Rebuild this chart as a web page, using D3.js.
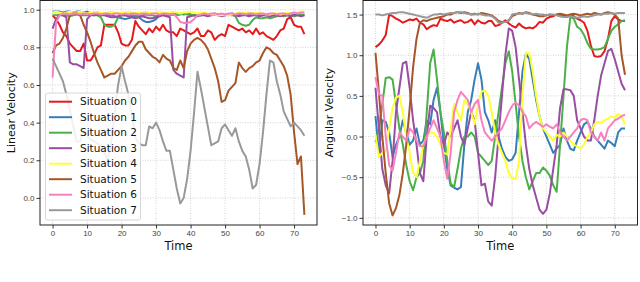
<!DOCTYPE html>
<html>
<head>
  <script src="https://cdn.jsdelivr.net/npm/d3@7"></script>
  <style>body { margin: 0; background: #fff } svg { display: block }</style>
</head>
<body>
  <div id="chart"></div>

  <script>
    const situations = ['Situation 0', 'Situation 1', 'Situation 2', 'Situation 3',
      'Situation 4', 'Situation 5', 'Situation 6', 'Situation 7'];
    const colors = ['#e41a1c', '#377eb8', '#4daf4a', '#984ea3', '#ffff33', '#a65628', '#f781bf', '#999999'];
    const xTicks = [0, 10, 20, 30, 40, 50, 60, 70];
    const linTicks = [0.0, 0.2, 0.4, 0.6, 0.8, 1.0];
    const angTicks = [-1.0, -0.5, 0.0, 0.5, 1.0, 1.5];

    // linear velocity, t = 0..73
    const lin0 = [0.97, 0.95, 0.92, 0.88, 0.86, 0.82, 0.80, 0.78, 0.78, 0.82, 0.73, 0.73, 0.76, 0.80, 0.81, 0.92,
      0.92, 0.92, 0.92, 0.88, 0.82, 0.81, 0.81, 0.84, 0.94, 0.91, 0.89, 0.87, 0.90, 0.88, 0.91, 0.89, 0.92, 0.89,
      0.88, 0.88, 0.86, 0.90, 0.89, 0.88, 0.87, 0.88, 0.90, 0.86, 0.86, 0.89, 0.88, 0.84, 0.86, 0.87, 0.86, 0.92,
      0.91, 0.90, 0.89, 0.90, 0.88, 0.89, 0.87, 0.90, 0.87, 0.88, 0.86, 0.85, 0.84, 0.86, 0.89, 0.90, 0.95, 0.96,
      0.92, 0.91, 0.91, 0.87];
    const lin1 = [0.99, 0.99, 0.99, 0.985, 0.99, 0.99, 0.985, 0.99, 0.99, 0.985, 0.99, 0.98, 0.98, 0.985, 0.98,
      0.98, 0.975, 0.97, 0.965, 0.96, 0.955, 0.95, 0.955, 0.96, 0.965, 0.96, 0.945, 0.935, 0.935, 0.94, 0.95, 0.97,
      0.975, 0.975, 0.98, 0.975, 0.98, 0.98, 0.975, 0.98, 0.975, 0.97, 0.975, 0.97, 0.975, 0.97, 0.975, 0.98, 0.975,
      0.975, 0.97, 0.975, 0.98, 0.975, 0.975, 0.97, 0.975, 0.975, 0.97, 0.975, 0.975, 0.97, 0.975, 0.975, 0.97,
      0.975, 0.975, 0.97, 0.975, 0.97, 0.975, 0.975, 0.97, 0.975];
    const lin2 = [0.97, 0.97, 0.975, 0.97, 0.97, 0.965, 0.97, 0.975, 0.97, 0.97, 0.97, 0.975, 0.97, 0.97, 0.96,
      0.92, 0.91, 0.91, 0.92, 0.96, 0.97, 0.97, 0.975, 0.97, 0.97, 0.965, 0.97, 0.975, 0.97, 0.97, 0.965, 0.97,
      0.975, 0.97, 0.97, 0.975, 0.97, 0.975, 0.98, 0.975, 0.97, 0.97, 0.975, 0.97, 0.975, 0.97, 0.975, 0.975, 0.97,
      0.975, 0.975, 0.97, 0.975, 0.965, 0.93, 0.92, 0.915, 0.92, 0.945, 0.96, 0.955, 0.955, 0.96, 0.955, 0.96, 0.965,
      0.97, 0.965, 0.97, 0.97, 0.965, 0.97, 0.975, 0.97];
    const lin3 = [0.90, 0.95, 0.97, 0.97, 0.96, 0.72, 0.71, 0.71, 0.70, 0.69, 0.95, 0.97, 0.97, 0.975, 0.97, 0.97,
      0.965, 0.96, 0.96, 0.965, 0.97, 0.97, 0.965, 0.96, 0.955, 0.96, 0.965, 0.96, 0.955, 0.955, 0.96, 0.965, 0.97,
      0.965, 0.96, 0.68, 0.66, 0.65, 0.64, 0.96, 0.965, 0.97, 0.965, 0.97, 0.97, 0.965, 0.97, 0.975, 0.97, 0.965,
      0.97, 0.975, 0.97, 0.97, 0.965, 0.97, 0.97, 0.965, 0.97, 0.97, 0.965, 0.97, 0.97, 0.965, 0.97, 0.97, 0.965,
      0.97, 0.97, 0.965, 0.97, 0.97, 0.965, 0.97];
    const lin4 = [0.985, 0.99, 0.985, 0.98, 0.985, 0.99, 0.985, 0.985, 0.99, 0.985, 0.98, 0.985, 0.99, 0.985, 0.985,
      0.98, 0.985, 0.99, 0.985, 0.98, 0.985, 0.985, 0.99, 0.985, 0.98, 0.985, 0.985, 0.99, 0.985, 0.98, 0.985, 0.99,
      0.985, 0.98, 0.985, 0.99, 0.985, 0.98, 0.985, 0.985, 0.99, 0.985, 0.98, 0.985, 0.985, 0.98, 0.975, 0.975,
      0.97, 0.97, 0.975, 0.97, 0.975, 0.98, 0.985, 0.98, 0.985, 0.985, 0.98, 0.985, 0.98, 0.98, 0.975, 0.975, 0.98,
      0.98, 0.975, 0.98, 0.985, 0.98, 0.985, 0.985, 0.99, 0.99];
    const lin5 = [0.77, 0.81, 0.82, 0.85, 0.90, 0.97, 0.98, 0.98, 0.97, 0.92, 0.88, 0.83, 0.77, 0.72, 0.68, 0.64,
      0.65, 0.66, 0.66, 0.68, 0.70, 0.73, 0.75, 0.78, 0.81, 0.83, 0.83, 0.79, 0.77, 0.75, 0.74, 0.72, 0.76, 0.74,
      0.73, 0.69, 0.68, 0.73, 0.69, 0.78, 0.82, 0.84, 0.85, 0.84, 0.82, 0.79, 0.74, 0.69, 0.62, 0.51, 0.52, 0.57,
      0.59, 0.61, 0.72, 0.69, 0.67, 0.69, 0.70, 0.72, 0.73, 0.77, 0.80, 0.79, 0.77, 0.76, 0.73, 0.70, 0.65, 0.55,
      0.35, 0.18, 0.22, -0.09];
    const lin6 = [0.64, 0.93, 0.97, 0.98, 0.98, 0.975, 0.98, 0.98, 0.975, 0.98, 0.98, 0.975, 0.98, 0.98, 0.975, 0.98,
      0.98, 0.975, 0.98, 0.98, 0.975, 0.98, 0.975, 0.98, 0.98, 0.975, 0.98, 0.98, 0.975, 0.98, 0.98, 0.975, 0.98,
      0.98, 0.975, 0.98, 0.96, 0.935, 0.93, 0.93, 0.935, 0.95, 0.97, 0.975, 0.98, 0.975, 0.98, 0.98, 0.975, 0.98,
      0.975, 0.98, 0.98, 0.975, 0.98, 0.98, 0.975, 0.98, 0.98, 0.975, 0.98, 0.98, 0.975, 0.98, 0.98, 0.975, 0.98,
      0.98, 0.975, 0.98, 0.985, 0.98, 0.985, 0.985];
    const lin7 = [0.74, 0.70, 0.66, 0.62, 0.55, 0.47, 0.38, 0.30, 0.30, 0.36, 0.33, 0.31, 0.30, 0.29, 0.28, 0.24,
      0.20, 0.30, 0.45, 0.60, 0.70, 0.62, 0.55, 0.43, 0.32, 0.29, 0.28, 0.28, 0.38, 0.37, 0.40, 0.36, 0.30, 0.25,
      0.25, 0.15, 0.05, -0.03, 0.00, 0.10, 0.25, 0.45, 0.67, 0.58, 0.48, 0.38, 0.28, 0.29, 0.30, 0.37, 0.39, 0.36,
      0.33, 0.37, 0.30, 0.25, 0.22, 0.15, 0.05, 0.07, 0.18, 0.35, 0.55, 0.73, 0.72, 0.62, 0.55, 0.46, 0.42, 0.38,
      0.40, 0.38, 0.36, 0.33];

    // angular velocity, t = 0..73
    const ang0 = [1.10, 1.13, 1.18, 1.25, 1.50, 1.48, 1.45, 1.43, 1.40, 1.42, 1.44, 1.43, 1.45, 1.40, 1.38, 1.32,
      1.35, 1.37, 1.36, 1.45, 1.43, 1.42, 1.44, 1.40, 1.42, 1.43, 1.40, 1.41, 1.44, 1.38, 1.43, 1.40, 1.39, 1.42,
      1.42, 1.36, 1.37, 1.40, 1.43, 1.39, 1.36, 1.34, 1.39, 1.35, 1.33, 1.34, 1.33, 1.36, 1.41, 1.40, 1.45, 1.47,
      1.48, 1.50, 1.48, 1.49, 1.47, 1.50, 1.48, 1.45, 1.43, 1.40, 1.30, 1.12, 0.99, 0.98, 0.99, 1.05, 1.20, 1.42,
      1.48, 1.44, 1.42, 1.42];
    const ang1 = [0.25, -0.20, 0.20, 0.18, 0.05, -0.25, -0.10, 0.00, 0.20, 0.05, -0.10, -0.05, 0.10, -0.10, -0.05,
      0.20, 0.15, 0.45, 0.60, 0.30, -0.10, -0.40, -0.60, -0.63, -0.65, -0.62, -0.10, 0.30, 0.45, 0.70, 0.90, 0.70,
      0.30, 0.20, 0.05, 0.20, 0.00, -0.15, -0.25, -0.30, -0.28, -0.20, 0.30, 0.80, 1.02, 0.95, 0.70, 0.45, 0.25,
      0.10, 0.00, -0.10, -0.20, -0.15, -0.10, 0.10, -0.05, -0.15, -0.17, -0.05, 0.05, 0.15, 0.18, 0.10, 0.00, -0.05,
      -0.10, -0.15, -0.05, -0.08, -0.12, 0.05, 0.10, 0.10];
    const ang2 = [-0.07, 0.10, 0.40, 0.72, 0.73, 0.70, 0.40, 0.10, -0.10, -0.35, -0.55, -0.66, -0.50, -0.45, -0.30,
      0.30, 0.90, 1.07, 0.70, 0.30, 0.05, -0.30, -0.58, -0.62, -0.40, -0.15, 0.00, 0.00, 0.05, 0.00, -0.20, -0.25,
      -0.30, -0.35, -0.30, 0.00, 0.30, 0.60, 0.90, 1.05, 0.80, 0.40, 0.00, -0.30, -0.50, -0.65, -0.55, -0.45, -0.45,
      -0.38, -0.42, -0.48, -0.60, -0.68, -0.10, 0.50, 1.10, 1.47, 1.45, 1.35, 1.32, 1.25, 1.15, 1.08, 1.07, 1.07,
      1.08, 1.10, 1.20, 1.30, 1.35, 1.38, 1.42, 1.43];
    const ang3 = [0.60, 0.10, -0.40, -0.60, -0.70, -0.30, 0.30, 0.60, 0.90, 0.92, 0.60, 0.20, -0.10, -0.45, -0.55,
      0.00, 0.38, 0.35, 0.30, 0.00, -0.10, 0.05, 0.00, 0.10, 0.20, 0.00, -0.10, 0.10, 0.30, 0.20, -0.20, -0.60,
      -0.58, -0.80, -0.85, -0.50, 0.00, 0.50, 1.00, 1.33, 1.30, 1.10, 0.70, 0.30, -0.10, -0.40, -0.60, -0.75, -0.90,
      -0.95, -0.90, -0.70, -0.40, -0.10, 0.35, 0.58, 0.58, 0.57, 0.50, 0.20, 0.10, 0.00, -0.05, -0.05, 0.20, 0.50,
      0.75, 0.90, 1.05, 1.08, 0.95, 0.80, 0.65, 0.57];
    const ang4 = [0.02, -0.25, -0.20, -0.18, 0.10, 0.35, 0.48, 0.50, 0.30, 0.00, -0.20, -0.45, -0.50, -0.30, -0.10,
      0.00, 0.05, 0.05, 0.00, -0.10, -0.20, -0.22, 0.10, 0.40, 0.30, 0.20, 0.45, 0.40, 0.30, 0.15, 0.40, 0.55, 0.57,
      0.50, 0.30, 0.05, -0.10, -0.20, -0.30, -0.45, -0.52, -0.52, -0.30, 0.50, 1.03, 1.03, 0.80, 0.50, 0.25, 0.10,
      0.05, 0.00, -0.05, 0.02, 0.00, 0.05, 0.00, -0.05, -0.10, -0.12, -0.15, -0.10, 0.00, 0.05, 0.15, 0.18, 0.17,
      0.20, 0.22, 0.25, 0.23, 0.28, 0.25, 0.15];
    const ang5 = [1.03, 0.55, 0.00, -0.45, -0.82, -0.97, -0.88, -0.72, -0.45, -0.10, 0.35, 0.85, 1.20, 1.40, 1.43,
      1.42, 1.44, 1.45, 1.46, 1.47, 1.48, 1.50, 1.50, 1.52, 1.53, 1.52, 1.53, 1.52, 1.50, 1.51, 1.50, 1.52, 1.51,
      1.50, 1.49, 1.46, 1.42, 1.41, 1.41, 1.43, 1.48, 1.50, 1.52, 1.51, 1.53, 1.52, 1.50, 1.49, 1.48, 1.48, 1.49,
      1.50, 1.49, 1.50, 1.51, 1.50, 1.49, 1.50, 1.51, 1.50, 1.49, 1.50, 1.51, 1.50, 1.52, 1.51, 1.50, 1.52, 1.53,
      1.52, 1.50, 1.45, 1.00, 0.76];
    const ang6 = [0.73, 0.52, 0.50, 0.00, -0.35, -0.42, -0.20, 0.05, 0.00, -0.05, 0.10, 0.05, -0.05, -0.12, -0.12,
      0.00, 0.10, 0.20, 0.10, 0.00, -0.30, -0.52, -0.20, 0.30, 0.45, 0.55, 0.50, 0.45, 0.30, 0.40, 0.45, 0.20, 0.05,
      0.00, -0.05, 0.00, 0.05, 0.10, 0.20, 0.30, 0.38, 0.42, 0.38, 0.30, 0.25, 0.10, 0.15, 0.18, 0.15, 0.12, 0.15,
      0.12, 0.10, 0.15, 0.05, 0.00, -0.05, 0.00, 0.05, 0.10, 0.20, 0.22, 0.20, 0.05, 0.00, -0.05, 0.05, -0.05, 0.10,
      0.15, 0.20, 0.22, 0.25, 0.27];
    const ang7 = [1.50, 1.50, 1.49, 1.50, 1.51, 1.52, 1.52, 1.53, 1.53, 1.52, 1.51, 1.50, 1.49, 1.48, 1.47, 1.46,
      1.48, 1.50, 1.50, 1.51, 1.50, 1.51, 1.52, 1.52, 1.53, 1.53, 1.52, 1.51, 1.50, 1.50, 1.51, 1.50, 1.49, 1.49,
      1.48, 1.45, 1.40, 1.40, 1.41, 1.42, 1.50, 1.51, 1.51, 1.52, 1.52, 1.51, 1.50, 1.51, 1.50, 1.50, 1.49, 1.50,
      1.50, 1.49, 1.48, 1.47, 1.47, 1.48, 1.47, 1.46, 1.47, 1.48, 1.47, 1.48, 1.49, 1.50, 1.50, 1.51, 1.51, 1.52,
      1.51, 1.52, 1.52, 1.52];

    const linear = [lin0, lin1, lin2, lin3, lin4, lin5, lin6, lin7];
    const angular = [ang0, ang1, ang2, ang3, ang4, ang5, ang6, ang7];

    const W = 640, H = 282;
    const svg = d3.select('#chart').append('svg')
      .attr('width', W)
      .attr('height', H)
      .style('font-family', 'DejaVu Sans, sans-serif');

    function panel(box, series, yDomain, yTicks, yLabel, withLegend) {
      const x = d3.scaleLinear().domain([-3.65, 76.65]).range([box.x0, box.x1]);
      const y = d3.scaleLinear().domain(yDomain).range([box.y1, box.y0]);
      const g = svg.append('g');

      // grid
      g.append('g').selectAll('line').data(xTicks).join('line')
        .attr('x1', d => x(d)).attr('x2', d => x(d))
        .attr('y1', box.y0).attr('y2', box.y1)
        .attr('stroke', '#c8c8c8').attr('stroke-width', 0.8).attr('stroke-dasharray', '1,1.5');
      g.append('g').selectAll('line').data(yTicks).join('line')
        .attr('x1', box.x0).attr('x2', box.x1)
        .attr('y1', d => y(d)).attr('y2', d => y(d))
        .attr('stroke', '#c8c8c8').attr('stroke-width', 0.8).attr('stroke-dasharray', '1,1.5');

      const line = d3.line().x((d, i) => x(i)).y(d => y(d));
      const clip = 'clip' + box.x0;
      svg.append('clipPath').attr('id', clip).append('rect')
        .attr('x', box.x0).attr('y', box.y0).attr('width', box.x1 - box.x0).attr('height', box.y1 - box.y0);
      g.append('g').attr('clip-path', `url(#${clip})`)
        .selectAll('path').data(series).join('path')
        .attr('d', line)
        .attr('fill', 'none')
        .attr('stroke', (d, i) => colors[i])
        .attr('stroke-width', 2)
        .attr('stroke-linejoin', 'round');

      // axes
      const xAxis = g.append('g').attr('transform', `translate(0,${box.y1})`)
        .call(d3.axisBottom(x).tickValues(xTicks).tickSize(3.5).tickPadding(2).tickFormat(d3.format('d')));
      const yAxis = g.append('g').attr('transform', `translate(${box.x0},0)`)
        .call(d3.axisLeft(y).tickValues(yTicks).tickSize(3.5).tickPadding(2)
          .tickFormat(d => d < 0 ? '\u2212' + d3.format('.1f')(-d) : d3.format('.1f')(d)));
      [xAxis, yAxis].forEach(a => {
        a.select('.domain').remove();
        a.selectAll('text').attr('font-size', 8).attr('fill', '#444');
        a.selectAll('line').attr('stroke', '#333');
      });

      g.append('rect')
        .attr('x', box.x0).attr('y', box.y0)
        .attr('width', box.x1 - box.x0).attr('height', box.y1 - box.y0)
        .attr('fill', 'none').attr('stroke', '#222').attr('stroke-width', 1);

      g.append('text')
        .attr('x', (box.x0 + box.x1) / 2).attr('y', 250)
        .attr('text-anchor', 'middle').attr('font-size', 11.5).attr('fill', '#111')
        .text('Time');
      g.append('text')
        .attr('transform', `translate(${box.labelX},${(box.y0 + box.y1) / 2}) rotate(-90)`)
        .attr('text-anchor', 'middle').attr('font-size', 11).attr('fill', '#111')
        .text(yLabel);

      if (withLegend) {
        const lg = g.append('g');
        lg.append('rect')
          .attr('x', 45.5).attr('y', 93).attr('width', 95).attr('height', 127)
          .attr('rx', 2).attr('fill', '#fff').attr('fill-opacity', 0.85)
          .attr('stroke', '#ccc').attr('stroke-width', 0.8);
        const items = lg.selectAll('g').data(situations).join('g')
          .attr('transform', (d, i) => `translate(0,${101.7 + i * 15.5})`);
        items.append('line')
          .attr('x1', 49).attr('x2', 72).attr('y1', 0).attr('y2', 0)
          .attr('stroke', (d, i) => colors[i]).attr('stroke-width', 2);
        items.append('text')
          .attr('x', 80).attr('y', 0).attr('dy', '0.35em')
          .attr('font-size', 10.5).attr('fill', '#111')
          .text(d => d);
      }
    }

    panel({ x0: 40, x1: 317, y0: 0.5, y1: 225, labelX: 15 }, linear, [-0.144, 1.049], linTicks, 'Linear Velocity', true);
    panel({ x0: 363, x1: 637.5, y0: 0.5, y1: 225, labelX: 333 }, angular, [-1.088, 1.673], angTicks, 'Angular Velocity', false);

    // caption, mostly below the crop
    svg.append('text')
      .attr('x', 2).attr('y', 296)
      .attr('font-family', 'Liberation Serif, serif').attr('font-size', 22).attr('fill', '#222')
      .text('Figure 10: Correlation between situations and the velocities');
  </script>
</body>
</html>
